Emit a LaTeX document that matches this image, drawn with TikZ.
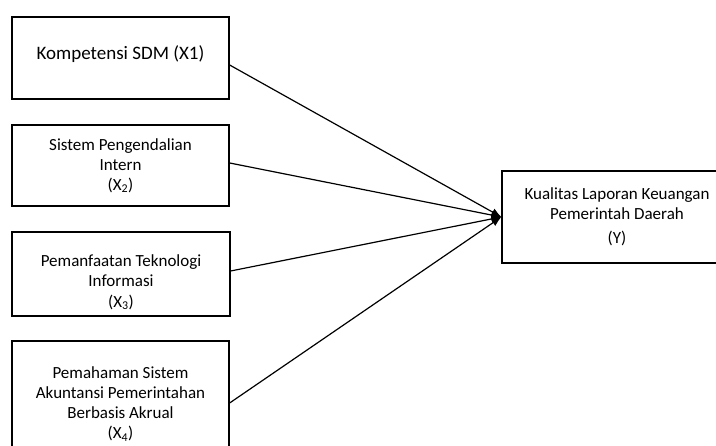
\documentclass[tikz,border=0pt]{standalone}
\usepackage{fontspec}
\setmainfont{Carlito}
\usetikzlibrary{arrows.meta}

\tikzset{
    varbox/.style={draw=black, line width=1.3pt, align=center, inner sep=2pt,
        font=\fontsize{17}{20}\selectfont},
    link/.style={-{Latex[length=10pt,width=8pt]}, line width=1.2pt}
}

\begin{document}
\begin{tikzpicture}[x=1pt, y=1pt]

    % рамка
    \useasboundingbox (0,0) rectangle (716,446);
    \clip (0,0) rectangle (716,446);

    % переменные X
    \node[varbox, minimum width=217pt, minimum height=82pt,
        font=\fontsize{19}{22}\selectfont] (x1) at (120.5,388)
        {Kompetensi SDM (X1)\\[-12pt]};
    \node[varbox, minimum width=217pt, minimum height=81pt] (x2) at (120.5,280.5)
        {Sistem Pengendalian\\Intern\\(X\textsubscript{2})};
    \node[varbox, minimum width=218pt, minimum height=84pt] (x3) at (121,172)
        {\mbox{}\\[8pt]Pemanfaatan Teknologi\\Informasi\\[1pt](X\textsubscript{3})};
    \node[varbox, minimum width=217pt, minimum height=111pt] (x4) at (120.5,49.5)
        {\mbox{}\\[7pt]Pemahaman Sistem\\Akuntansi Pemerintahan\\Berbasis Akrual\\(X\textsubscript{4})};

    % переменная Y
    \node[varbox, minimum width=230pt, minimum height=92pt] (y) at (617,229)
        {Kualitas Laporan Keuangan\\Pemerintah Daerah\\[4pt](Y)};

    % стрелки
    \draw[link] ([yshift=-7pt]x1.east) -- (y.west);
    \draw[link] ([yshift=2.5pt]x2.east) -- (y.west);
    \draw[link] ([yshift=3pt]x3.east) -- (y.west);
    \draw[link] ([yshift=-6.5pt]x4.east) -- (y.west);

\end{tikzpicture}
\end{document}
